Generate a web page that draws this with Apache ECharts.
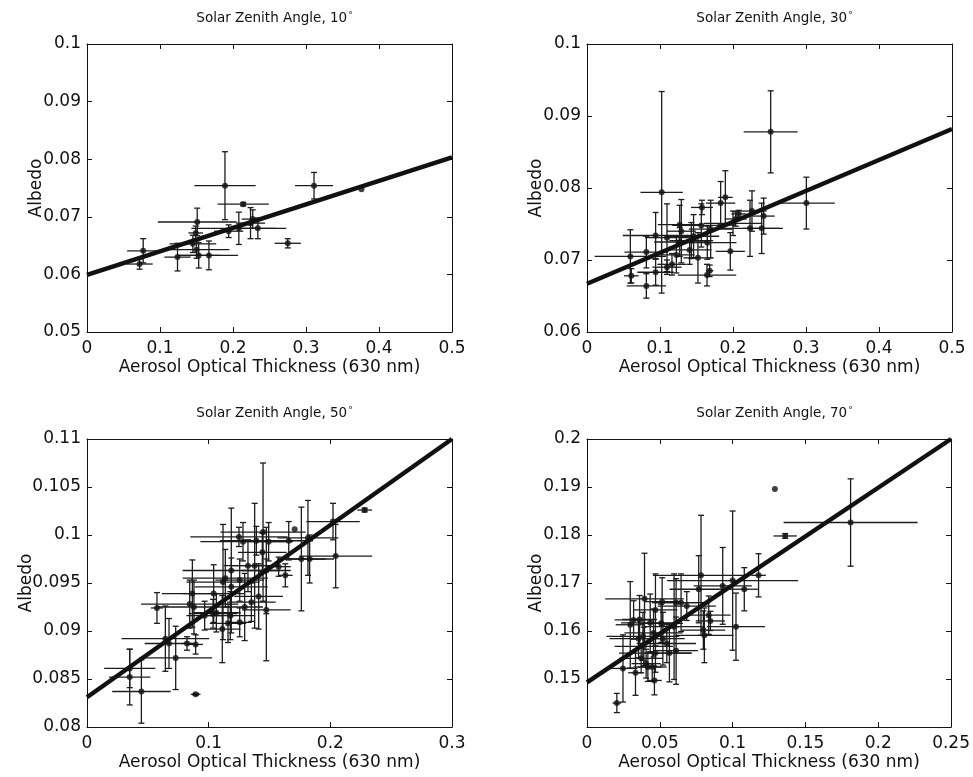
<!DOCTYPE html>
<html>
<head>
<meta charset="utf-8">
<script src="https://cdn.jsdelivr.net/npm/echarts@6/dist/echarts.min.js"></script>
<style>
html,body{margin:0;padding:0;background:#fff;}
#chart{width:973px;height:777px;}
</style>
</head>
<body>
<div id="chart"></div>
<script>
// ---------- Panel 1: Solar Zenith Angle 10 ----------
const p1X    = [0.072,0.077,0.124,0.145,0.149,0.151,0.150,0.153,0.167,0.189,0.214,0.194,0.208,0.224,0.227,0.234,0.275,0.311,0.376];
const p1Y    = [0.0618,0.0641,0.0630,0.0653,0.0672,0.0691,0.0643,0.0633,0.0633,0.0754,0.0722,0.0675,0.0680,0.0689,0.0696,0.0680,0.0654,0.0754,0.0748];
const p1XErr = [0.018,0.022,0.018,0.032,0.010,0.054,0.045,0.030,0.040,0.042,0.035,0.020,0.065,0.020,0.015,0.025,0.018,0.026,0.0];
const p1YErr = [0.0009,0.0021,0.0024,0.0015,0.0012,0.0024,0.0015,0.0022,0.0025,0.0059,0.0003,0.0011,0.0028,0.0027,0.0016,0.0018,0.0008,0.0023,0.0];
const p1Fit  = [[0,0.0599],[0.5,0.0803]];

// ---------- Panel 2: Solar Zenith Angle 30 ----------
const p2X    = [0.1023,0.2516,0.3005,0.0594,0.0607,0.0813,0.0813,0.094,0.094,0.1096,0.1096,0.1164,0.1224,0.127,0.1292,0.127,0.1429,0.146,0.152,0.1566,0.1575,0.1648,0.1644,0.168,0.1694,0.1831,0.1895,0.1963,0.2,0.2078,0.2037,0.2233,0.226,0.2393,0.242,0.1406];
const p2Y    = [0.0794,0.0878,0.0779,0.0705,0.0678,0.0664,0.0711,0.0683,0.0734,0.069,0.0731,0.0694,0.0707,0.0749,0.074,0.0725,0.0727,0.0733,0.0703,0.0748,0.0773,0.0724,0.0679,0.0685,0.0743,0.0779,0.0787,0.0712,0.0751,0.0764,0.0757,0.0744,0.0768,0.0744,0.0761,0.0714];
const p2XErr = [0.029,0.037,0.039,0.049,0.010,0.027,0.030,0.025,0.045,0.020,0.030,0.020,0.025,0.030,0.020,0.035,0.030,0.035,0.020,0.040,0.015,0.040,0.040,0.005,0.030,0.020,0.010,0.020,0.040,0.010,0.015,0.045,0.020,0.025,0.015,0.030];
const p2YErr = [0.014,0.0057,0.0036,0.0037,0.001,0.0017,0.0022,0.0018,0.0032,0.001,0.0047,0.0015,0.0025,0.0027,0.0044,0.002,0.0025,0.003,0.0035,0.003,0.001,0.0023,0.0015,0.0008,0.004,0.003,0.0037,0.0026,0.0017,0.0005,0.001,0.0039,0.0028,0.0035,0.0025,0.002];
const p2Fit  = [[0,0.0667],[0.5,0.0882]];

// ---------- Panel 3: Solar Zenith Angle 50 ----------
const p3X    = [0.0351,0.0351,0.0447,0.0575,0.0674,0.0644,0.0729,0.0822,0.0866,0.0844,0.0893,0.0893,0.0879,0.0967,0.1041,0.1036,0.1112,0.1118,0.1137,0.1159,0.1178,0.1186,0.1249,0.1255,0.1255,0.1282,0.1296,0.1323,0.1351,0.1378,0.1392,0.1411,0.1447,0.1441,0.1474,0.1474,0.1493,0.1575,0.163,0.1658,0.1707,0.1762,0.1816,0.183,0.2022,0.2044,0.2282,0.1186,0.1063];
const p3Y    = [0.0852,0.0861,0.0837,0.0924,0.0887,0.0892,0.0872,0.0887,0.0939,0.0928,0.0886,0.0834,0.0925,0.0916,0.0939,0.0918,0.0902,0.0951,0.0955,0.0908,0.0916,0.0963,0.0998,0.0953,0.0909,0.0993,0.0925,0.0968,0.093,0.0968,0.0994,0.0936,0.1003,0.0982,0.0963,0.0922,0.0993,0.0967,0.0958,0.0994,0.1006,0.0975,0.0997,0.0975,0.1014,0.0978,0.1026,0.0946,0.0919];
const p3XErr = [0.017,0.021,0.024,0.005,0.020,0.036,0.030,0.004,0.025,0.040,0.006,0.004,0.030,0.015,0.025,0.020,0.015,0.030,0.035,0.015,0.020,0.040,0.040,0.020,0.010,0.035,0.015,0.020,0.020,0.020,0.030,0.020,0.035,0.020,0.020,0.020,0.020,0.010,0.006,0.020,0.0,0.020,0.025,0.020,0.022,0.030,0.006,0.030,0.020];
const p3YErr = [0.0029,0.002,0.0033,0.0016,0.0026,0.0034,0.0033,0.0007,0.0035,0.0025,0.001,0.0001,0.0028,0.0015,0.003,0.0015,0.0035,0.006,0.003,0.002,0.0025,0.0065,0.001,0.0022,0.0015,0.002,0.0035,0.0027,0.002,0.0065,0.0015,0.0034,0.0072,0.002,0.0045,0.0053,0.002,0.001,0.0012,0.002,0.0,0.0054,0.0039,0.0025,0.0019,0.0033,0.0002,0.003,0.002];
const p3Fit  = [[0,0.0831],[0.3,0.11]];

// ---------- Panel 4: Solar Zenith Angle 70 ----------
const p4X    = [0.0205,0.0247,0.0333,0.0297,0.032,0.0354,0.0361,0.0372,0.0384,0.0395,0.039,0.0406,0.0418,0.0434,0.0448,0.0463,0.047,0.047,0.0457,0.0521,0.0548,0.0566,0.0516,0.0598,0.0612,0.0612,0.0646,0.0685,0.0767,0.0783,0.0799,0.0806,0.0836,0.0847,0.0932,0.1,0.1023,0.108,0.1178,0.129,0.1361,0.181,0.0509];
const p4Y    = [0.145,0.1522,0.1513,0.1613,0.1623,0.1584,0.1624,0.1543,0.1589,0.1667,0.1568,0.1532,0.1525,0.1617,0.1525,0.1497,0.1644,0.1554,0.1596,0.1584,0.1574,0.1554,0.1661,0.1609,0.1659,0.1559,0.1659,0.1652,0.1687,0.1716,0.1602,0.1591,0.1633,0.1621,0.1694,0.1705,0.1609,0.1687,0.1716,0.1896,0.1798,0.1826,0.1616];
const p4XErr = [0.003,0.010,0.005,0.010,0.013,0.020,0.012,0.015,0.025,0.027,0.020,0.010,0.010,0.020,0.010,0.005,0.015,0.025,0.020,0.015,0.020,0.015,0.012,0.020,0.015,0.015,0.020,0.020,0.020,0.033,0.015,0.020,0.015,0.010,0.020,0.045,0.020,0.010,0.005,0.0,0.008,0.046,0.015];
const p4YErr = [0.002,0.007,0.0047,0.009,0.004,0.004,0.005,0.003,0.005,0.0095,0.004,0.003,0.003,0.006,0.003,0.003,0.0075,0.004,0.005,0.0055,0.004,0.006,0.005,0.011,0.005,0.007,0.006,0.003,0.007,0.0125,0.004,0.0057,0.004,0.002,0.008,0.0145,0.007,0.0045,0.0045,0.0,0.0005,0.0091,0.004];
const p4Fit  = [[0,0.1493],[0.25,0.2]];

// ---------- Titles, axis ranges ----------
const angles    = ['10','30','50','70'];
const xRanges   = [[0,0.5,0.1],[0,0.5,0.1],[0,0.3,0.1],[0,0.25,0.05]];
const yRanges   = [[0.05,0.1,0.01],[0.06,0.1,0.01],[0.08,0.11,0.005],[0.14,0.2,0.01]];
const hideMinY  = [false,false,false,true];
const xName = 'Aerosol Optical Thickness (630 nm)';
const yName = 'Albedo';

const panelData = [
  [p1X,p1Y,p1XErr,p1YErr,p1Fit],
  [p2X,p2Y,p2XErr,p2YErr,p2Fit],
  [p3X,p3Y,p3XErr,p3YErr,p3Fit],
  [p4X,p4Y,p4XErr,p4YErr,p4Fit]
];

// ---------- Layout ----------
const gridPos = [
  {left:87, top:44, width:365, height:288},
  {left:587, top:44, width:365, height:288},
  {left:87, top:439, width:365, height:288},
  {left:587, top:439, width:365, height:288}
];
const yNameGap = [42,42,52,42];

const FONT = 'DejaVu Sans';
const INK = '#111';

const grids=[], xAxes=[], yAxes=[], series=[], titles=[];

function errRender(params, api){
  const x=api.value(0), y=api.value(1), xe=api.value(2), ye=api.value(3);
  const l=api.coord([x-xe,y]), r=api.coord([x+xe,y]);
  const t=api.coord([x,y+ye]), b=api.coord([x,y-ye]);
  const style={stroke:'#1c1c1c', lineWidth:1.3};
  const ch=[];
  if (xe>0) ch.push({type:'line', shape:{x1:l[0],y1:l[1],x2:r[0],y2:r[1]}, style});
  if (ye>0){
    ch.push({type:'line', shape:{x1:t[0],y1:t[1],x2:b[0],y2:b[1]}, style});
    ch.push({type:'line', shape:{x1:t[0]-3,y1:t[1],x2:t[0]+3,y2:t[1]}, style});
    ch.push({type:'line', shape:{x1:b[0]-3,y1:b[1],x2:b[0]+3,y2:b[1]}, style});
  }
  return {type:'group', children:ch};
}

panelData.forEach((pd,i)=>{
  const [xs,ys,xes,yes,fit]=pd;
  grids.push(Object.assign({containLabel:false}, gridPos[i]));
  const xr=xRanges[i], yr=yRanges[i];
  const axLine={show:true, onZero:false, lineStyle:{color:INK,width:1}};
  const tick={show:true, inside:true, length:5, lineStyle:{color:INK,width:1}};
  xAxes.push({type:'value', gridIndex:i, position:'bottom', min:xr[0], max:xr[1], interval:xr[2],
    axisLine:axLine, axisTick:tick, splitLine:{show:false},
    axisLabel:{color:INK, fontFamily:FONT, fontSize:17, margin:8},
    name:xName, nameLocation:'middle', nameGap:27, nameMoveOverlap:false,
    nameTextStyle:{color:INK, fontFamily:FONT, fontSize:17}});
  xAxes.push({type:'value', gridIndex:i, position:'top', min:xr[0], max:xr[1], interval:xr[2],
    axisLine:axLine, axisTick:tick, splitLine:{show:false}, axisLabel:{show:false}});
  yAxes.push({type:'value', gridIndex:i, position:'left', min:yr[0], max:yr[1], interval:yr[2],
    axisLine:axLine, axisTick:tick, splitLine:{show:false},
    axisLabel:{color:INK, fontFamily:FONT, fontSize:17, margin:6, showMinLabel:!hideMinY[i]},
    name:yName, nameLocation:'middle', nameGap:yNameGap[i], nameRotate:90, nameMoveOverlap:false,
    nameTextStyle:{color:INK, fontFamily:FONT, fontSize:17}});
  yAxes.push({type:'value', gridIndex:i, position:'right', min:yr[0], max:yr[1], interval:yr[2],
    axisLine:axLine, axisTick:tick, splitLine:{show:false}, axisLabel:{show:false}});

  const xa=i*2, ya=i*2;
  const pts=xs.map((x,k)=>[x,ys[k],xes[k],yes[k]]);
  series.push({type:'custom', xAxisIndex:xa, yAxisIndex:ya, renderItem:errRender,
    data:pts, clip:true, silent:true, z:2});
  series.push({type:'scatter', xAxisIndex:xa, yAxisIndex:ya, data:xs.map((x,k)=>[x,ys[k]]),
    symbol:'circle', symbolSize:6, itemStyle:{color:INK}, silent:true, z:3});
  series.push({type:'line', xAxisIndex:xa, yAxisIndex:ya, data:fit, showSymbol:false, symbol:'none',
    lineStyle:{color:INK, width:4.5}, silent:true, z:4});

  const g=gridPos[i];
  titles.push({text:'Solar Zenith Angle, '+angles[i]+'{d|°}', left:g.left+g.width/2, top:g.top-38,
    textAlign:'center',
    textStyle:{color:INK, fontFamily:FONT, fontSize:13.5, fontWeight:'normal',
      rich:{d:{fontFamily:FONT, fontSize:9, color:INK, verticalAlign:'top', padding:[0,0,6,1]}}}});
});

const chart = echarts.init(document.getElementById('chart'));
chart.setOption({
  animation:false,
  backgroundColor:'#fff',
  title:titles,
  grid:grids,
  xAxis:xAxes,
  yAxis:yAxes,
  series:series
});
</script>
</body>
</html>
